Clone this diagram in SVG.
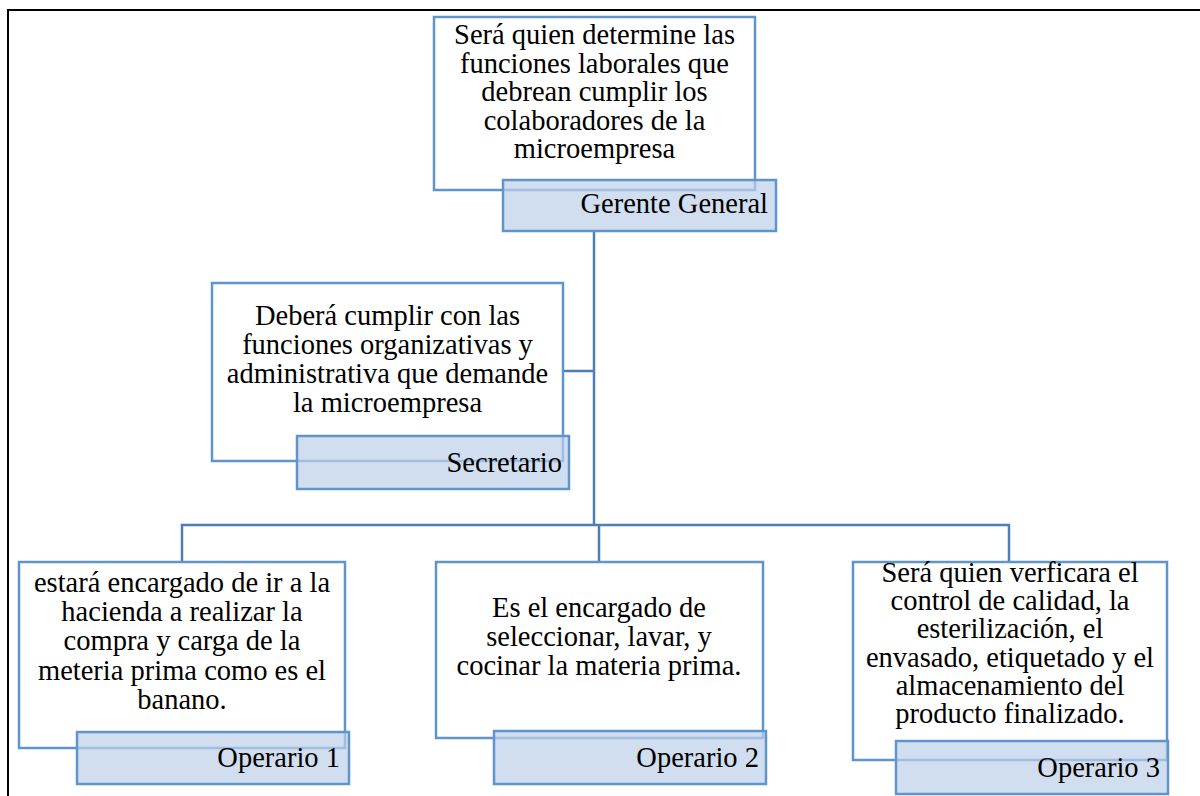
<svg xmlns="http://www.w3.org/2000/svg" width="1200" height="796" viewBox="0 0 1200 796">
<style>
.box{fill:#ffffff;stroke:#5f95cc;stroke-width:2.5}
.lab{fill:#bed0e8;fill-opacity:0.7;stroke:#5f95cc;stroke-width:2.5}
.t{font-family:'Liberation Serif','Times New Roman','DejaVu Serif',serif;font-size:28.5px;fill:#000}
.c{text-anchor:middle}
.r{text-anchor:end}
.con{fill:none;stroke:#4d7fb3;stroke-width:2.5}
</style>
<rect width="1200" height="796" fill="#fff"/>
<path d="M8 796 V10 H1200" fill="none" stroke="#000" stroke-width="2"/>
<g id="connectors">
<path class="con" d="M594 231 V525"/>
<path class="con" d="M563 371 H594"/>
<path class="con" d="M182 562 V525 H1009 V562"/>
<path class="con" d="M599 525 V562"/>
</g>
<g id="gerente">
<rect class="box" x="434" y="17" width="321" height="173"/>
<text class="t c" font-family="Liberation Serif, serif"><tspan x="594.5" y="44">Será quien determine las</tspan><tspan x="594.5" y="72.5">funciones laborales que</tspan><tspan x="594.5" y="101">debrean cumplir los</tspan><tspan x="594.5" y="129.5">colaboradores de la</tspan><tspan x="594.5" y="158">microempresa</tspan></text>
<rect class="lab" x="503" y="180" width="273" height="51"/>
<text class="t r" font-family="Liberation Serif, serif" x="768" y="213">Gerente General</text>
</g>
<g id="secretario">
<rect class="box" x="212" y="283" width="351" height="178"/>
<text class="t c" font-family="Liberation Serif, serif"><tspan x="387.5" y="325">Deberá cumplir con las</tspan><tspan x="387.5" y="354">funciones organizativas y</tspan><tspan x="387.5" y="383">administrativa que demande</tspan><tspan x="387.5" y="412">la microempresa</tspan></text>
<rect class="lab" x="297" y="436" width="272" height="53"/>
<text class="t r" font-family="Liberation Serif, serif" x="562" y="472">Secretario</text>
</g>
<g id="operario1">
<rect class="box" x="19" y="562" width="326" height="186"/>
<text class="t c" font-family="Liberation Serif, serif"><tspan x="182" y="592">estará encargado de ir a la</tspan><tspan x="182" y="621">hacienda a realizar la</tspan><tspan x="182" y="650">compra y carga de la</tspan><tspan x="182" y="680">meteria prima como es el</tspan><tspan x="182" y="709">banano.</tspan></text>
<rect class="lab" x="77" y="732" width="272" height="52"/>
<text class="t r" font-family="Liberation Serif, serif" x="340" y="767">Operario 1</text>
</g>
<g id="operario2">
<rect class="box" x="436" y="562" width="327" height="176"/>
<text class="t c" font-family="Liberation Serif, serif"><tspan x="599" y="617">Es el encargado de</tspan><tspan x="599" y="646">seleccionar, lavar, y</tspan><tspan x="599" y="675">cocinar la materia prima.</tspan></text>
<rect class="lab" x="494" y="731" width="272" height="53"/>
<text class="t r" font-family="Liberation Serif, serif" x="759" y="767">Operario 2</text>
</g>
<g id="operario3">
<rect class="box" x="853" y="562" width="314" height="198"/>
<text class="t c" font-family="Liberation Serif, serif"><tspan x="1010" y="582">Será quien verficara el</tspan><tspan x="1010" y="610">control de calidad, la</tspan><tspan x="1010" y="638">esterilización, el</tspan><tspan x="1010" y="667">envasado, etiquetado y el</tspan><tspan x="1010" y="695">almacenamiento del</tspan><tspan x="1010" y="723">producto finalizado.</tspan></text>
<rect class="lab" x="896" y="741" width="272" height="53"/>
<text class="t r" font-family="Liberation Serif, serif" x="1160" y="777">Operario 3</text>
</g>
</svg>
